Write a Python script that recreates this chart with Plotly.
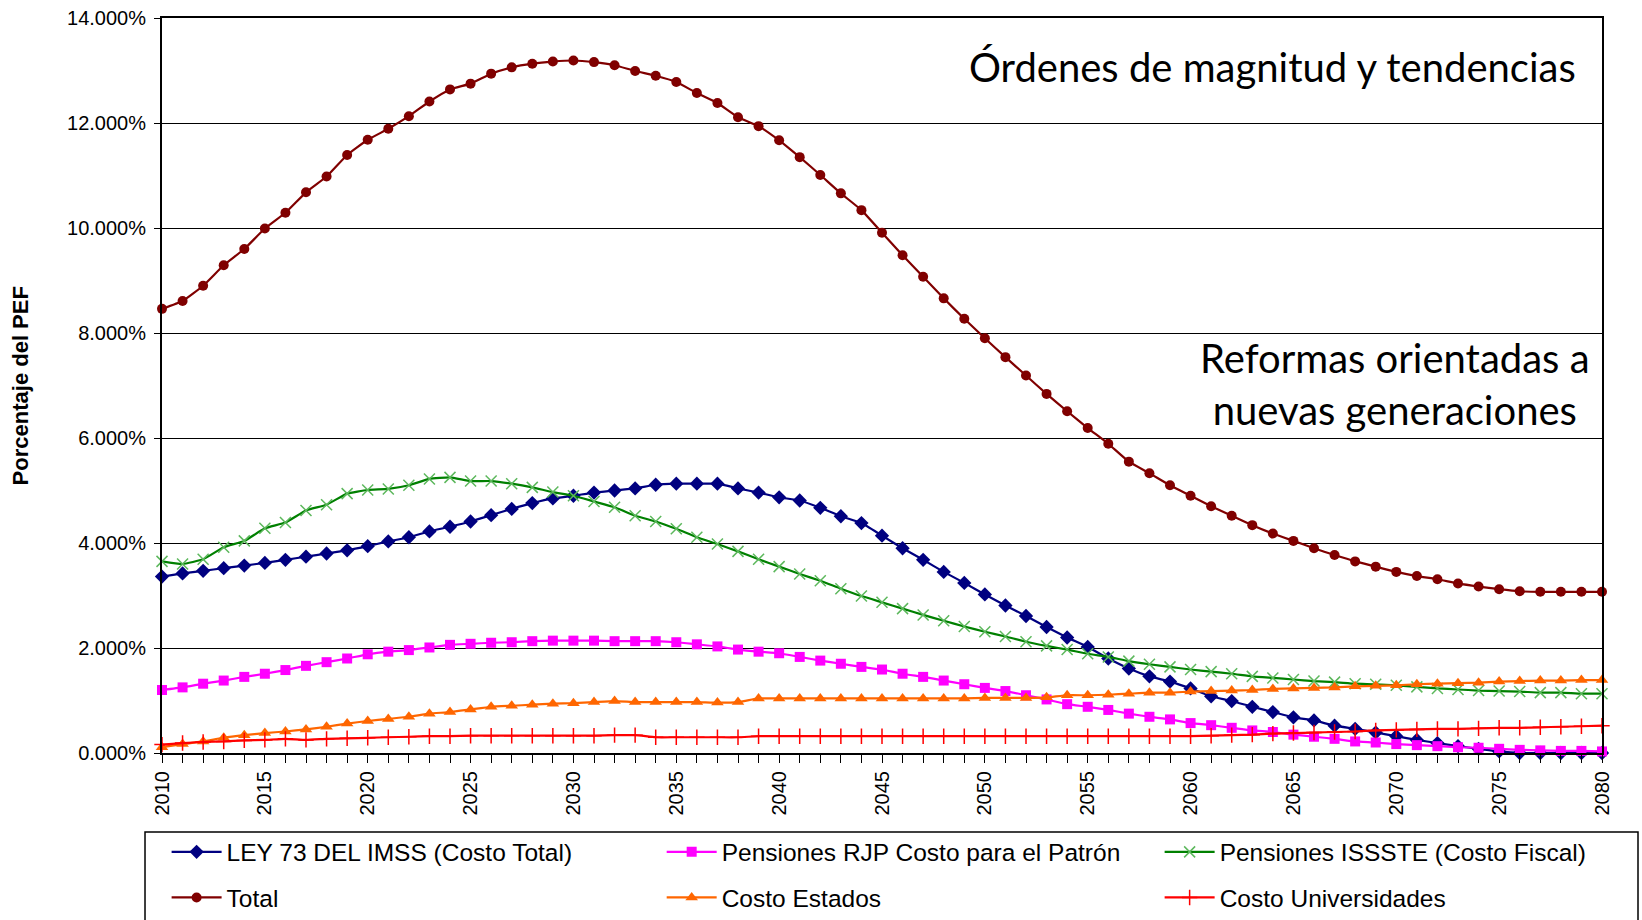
import plotly.graph_objects as go

years = list(range(2010, 2081))

ley73_imss = [3.36, 3.42, 3.47, 3.52, 3.57, 3.62,
              3.68, 3.74, 3.80, 3.86, 3.94,
              4.03, 4.11, 4.22, 4.31, 4.41,
              4.53, 4.65, 4.76, 4.85, 4.90,
              4.96, 5.00, 5.04, 5.11, 5.13,
              5.13, 5.13, 5.04, 4.96, 4.87,
              4.81, 4.67, 4.51, 4.38, 4.14,
              3.90, 3.68, 3.45, 3.24, 3.02,
              2.81, 2.61, 2.40, 2.20, 2.02,
              1.80, 1.61, 1.46, 1.36, 1.23,
              1.08, 0.99, 0.88, 0.78, 0.68,
              0.62, 0.52, 0.46, 0.39, 0.32,
              0.25, 0.19, 0.13, 0.08, 0.03,
              0.00, 0.00, 0.00, 0.00, 0.00]

rjp_patron = [1.20, 1.25, 1.32, 1.38, 1.45, 1.51,
              1.58, 1.66, 1.73, 1.80, 1.88,
              1.93, 1.96, 2.01, 2.06, 2.08,
              2.10, 2.11, 2.13, 2.14, 2.14,
              2.14, 2.13, 2.13, 2.13, 2.11,
              2.07, 2.03, 1.97, 1.93, 1.90,
              1.83, 1.76, 1.70, 1.64, 1.59,
              1.51, 1.45, 1.38, 1.31, 1.24,
              1.18, 1.10, 1.02, 0.93, 0.88,
              0.82, 0.75, 0.69, 0.64, 0.57,
              0.53, 0.48, 0.43, 0.40, 0.35,
              0.31, 0.27, 0.22, 0.20, 0.17,
              0.15, 0.13, 0.11, 0.10, 0.08,
              0.06, 0.05, 0.04, 0.04, 0.03]

issste_fiscal = [3.65, 3.60, 3.69, 3.92, 4.04, 4.28,
                 4.39, 4.62, 4.73, 4.94, 5.01,
                 5.03, 5.10, 5.22, 5.25, 5.18,
                 5.18, 5.13, 5.06, 4.97, 4.90,
                 4.79, 4.68, 4.52, 4.41, 4.27,
                 4.11, 3.98, 3.84, 3.69, 3.55,
                 3.41, 3.28, 3.13, 2.99, 2.87,
                 2.75, 2.63, 2.52, 2.41, 2.31,
                 2.22, 2.12, 2.04, 1.97, 1.89,
                 1.83, 1.75, 1.69, 1.64, 1.59,
                 1.55, 1.51, 1.46, 1.43, 1.40,
                 1.37, 1.35, 1.32, 1.31, 1.29,
                 1.26, 1.23, 1.21, 1.19, 1.18,
                 1.17, 1.15, 1.15, 1.13, 1.13]

total = [8.46, 8.61, 8.90, 9.29, 9.60, 9.99,
         10.29, 10.68, 10.98, 11.39, 11.68,
         11.89, 12.13, 12.41, 12.64, 12.75,
         12.94, 13.06, 13.13, 13.17, 13.19,
         13.16, 13.10, 12.99, 12.90, 12.78,
         12.57, 12.38, 12.11, 11.94, 11.67,
         11.35, 11.01, 10.66, 10.34, 9.91,
         9.48, 9.07, 8.66, 8.27, 7.90,
         7.54, 7.19, 6.84, 6.51, 6.19,
         5.89, 5.55, 5.33, 5.10, 4.90,
         4.70, 4.52, 4.34, 4.18, 4.04,
         3.90, 3.77, 3.65, 3.55, 3.45,
         3.37, 3.31, 3.23, 3.17, 3.12,
         3.08, 3.07, 3.07, 3.07, 3.07]

costo_estados = [0.11, 0.17, 0.22, 0.29, 0.34, 0.38,
                 0.41, 0.45, 0.50, 0.56, 0.61,
                 0.65, 0.69, 0.75, 0.78, 0.83,
                 0.88, 0.90, 0.92, 0.94, 0.95,
                 0.97, 0.99, 0.97, 0.97, 0.97,
                 0.97, 0.96, 0.97, 1.04, 1.04,
                 1.04, 1.04, 1.04, 1.04, 1.04,
                 1.04, 1.04, 1.04, 1.04, 1.05,
                 1.05, 1.05, 1.06, 1.10, 1.10,
                 1.11, 1.13, 1.15, 1.15, 1.17,
                 1.18, 1.19, 1.20, 1.22, 1.23,
                 1.24, 1.25, 1.27, 1.28, 1.29,
                 1.31, 1.32, 1.33, 1.34, 1.36,
                 1.37, 1.38, 1.38, 1.39, 1.39]

costo_universidades = [0.16, 0.19, 0.21, 0.22, 0.24, 0.25,
                       0.27, 0.25, 0.27, 0.28, 0.29,
                       0.30, 0.31, 0.32, 0.32, 0.33,
                       0.33, 0.33, 0.33, 0.33, 0.33,
                       0.33, 0.34, 0.34, 0.30, 0.30,
                       0.30, 0.30, 0.30, 0.32, 0.32,
                       0.32, 0.32, 0.32, 0.32, 0.32,
                       0.32, 0.32, 0.32, 0.32, 0.32,
                       0.32, 0.32, 0.32, 0.32, 0.32,
                       0.32, 0.32, 0.32, 0.32, 0.32,
                       0.33, 0.34, 0.35, 0.37, 0.38,
                       0.39, 0.40, 0.41, 0.43, 0.44,
                       0.45, 0.46, 0.46, 0.47, 0.48,
                       0.48, 0.49, 0.50, 0.51, 0.52]

y_ticks = [0, 2, 4, 6, 8, 10, 12, 14]
x_label_years = list(range(2010, 2081, 5))

# name, values, colour, symbol, size
series = [
    ("LEY 73 DEL IMSS (Costo Total)", ley73_imss, "#000080", "diamond", 11),
    ("Pensiones RJP Costo para el Patrón", rjp_patron, "#FF00FF", "square", 10),
    ("Pensiones ISSSTE (Costo Fiscal)", issste_fiscal, "#008000", "x-thin", 11),
    ("Total", total, "#800000", "circle", 10),
    ("Costo Estados", costo_estados, "#FF6600", "triangle-up", 11),
    ("Costo Universidades", costo_universidades, "#FF0000", "cross-thin", 11),
]

# legend slots: (x paper, y paper) for 3 columns x 2 rows
legend_cols = [0.0032, 0.347, 0.6928]
legend_rows = [-0.104, -0.166]

fig = go.Figure()
legend_layout = {}
for i, (name, vals, color, sym, size) in enumerate(series):
    if sym.endswith("-thin"):
        mcolor = "#5DB85D" if sym == "x-thin" else color
        marker = dict(symbol=sym, size=size, color=mcolor,
                      line=dict(color=mcolor, width=1.5))
    else:
        marker = dict(symbol=sym, size=size, color=color, line=dict(width=0))
    leg_key = "legend" if i == 0 else f"legend{i + 1}"
    fig.add_trace(go.Scatter(
        x=years, y=vals, name=name, mode="lines+markers",
        line=dict(color=color, width=2.2, shape="spline", smoothing=0.4),
        marker=marker, cliponaxis=False, legend=leg_key,
    ))
    legend_layout[leg_key] = dict(
        orientation="h", x=legend_cols[i % 3], y=legend_rows[i // 3],
        xanchor="left", yanchor="top", itemwidth=50,
        font=dict(family="Liberation Sans, Arial, sans-serif", size=24.5, color="black"),
        bgcolor="rgba(0,0,0,0)", borderwidth=0,
    )

tick_font = dict(family="Liberation Sans, Arial, sans-serif", size=20, color="black")

fig.update_layout(
    width=1642, height=920,
    paper_bgcolor="white", plot_bgcolor="white",
    margin=dict(l=162, r=40, t=18, b=167, autoexpand=False),
    showlegend=True,
    xaxis=dict(
        range=[2010, 2080], tickmode="array", tickvals=x_label_years,
        ticktext=[str(y) for y in x_label_years], tickangle=-90,
        ticks="outside", ticklen=8, tickwidth=1, tickcolor="black",
        minor=dict(dtick=1, tick0=2010, ticks="outside", ticklen=8, tickwidth=1, tickcolor="black"),
        showline=True, linecolor="black", linewidth=2, mirror=True,
        showgrid=False, zeroline=False, tickfont=tick_font,
    ),
    yaxis=dict(
        range=[0, 14], tickmode="array", tickvals=y_ticks,
        ticktext=[f"{v:.3f}%" for v in y_ticks],
        ticks="outside", ticklen=6, tickcolor="black",
        showline=True, linecolor="black", linewidth=2, mirror=True,
        showgrid=True, gridcolor="black", gridwidth=1,
        zeroline=False, tickfont=tick_font, ticklabelstandoff=4,
    ),
    shapes=[dict(type="rect", xref="paper", yref="paper",
                 x0=-0.0118, x1=1.025, y0=-0.1075, y1=-0.40,
                 line=dict(color="black", width=1.5), fillcolor="rgba(0,0,0,0)")],
    annotations=[
        dict(text="<b>Porcentaje del PEF</b>", textangle=-90, xref="paper", yref="paper",
             x=-0.098, y=0.5, xanchor="center", yanchor="middle", showarrow=False,
             font=dict(family="Liberation Sans, Arial, sans-serif", size=22, color="black")),
        dict(text="Órdenes de magnitud y tendencias", xref="paper", yref="paper",
             x=0.983, y=0.933, xanchor="right", yanchor="middle", showarrow=False,
             font=dict(family="Lato, sans-serif", size=40, color="black")),
        dict(text="Reformas orientadas a<br>nuevas generaciones", xref="paper", yref="paper",
             x=0.856, y=0.5016, xanchor="center", yanchor="middle", showarrow=False, align="center",
             font=dict(family="Lato, sans-serif", size=40, color="black")),
    ],
    **legend_layout,
)

fig.write_html("out.html", config={"displayModeBar": False},
               post_script="document.body.style.margin='0';document.body.style.padding='0';")
